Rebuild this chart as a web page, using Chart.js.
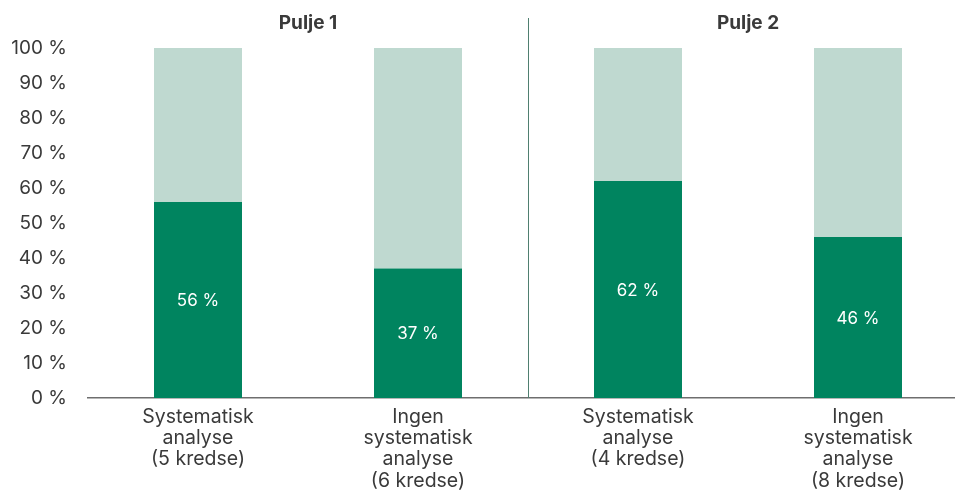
<!DOCTYPE html>
<html>
<head>
<meta charset="utf-8">
<script src="https://cdn.jsdelivr.net/npm/chart.js@4"></script>
<style>
html,body{margin:0;padding:0;background:#fff;overflow:hidden;}
#clip{width:955px;height:490px;overflow:hidden;position:relative;}
#wrap{width:968px;height:490px;position:relative;}
</style>
</head>
<body>
<div id="clip"><div id="wrap"><canvas id="c"></canvas></div></div>
<script>
const categories = [
  ['Systematisk','analyse','(5 kredse)'],
  ['Ingen','systematisk','analyse','(6 kredse)'],
  ['Systematisk','analyse','(4 kredse)'],
  ['Ingen','systematisk','analyse','(8 kredse)']
];
const groups = ['Pulje 1', 'Pulje 2'];
const shareValues = [56, 37, 62, 46];
const restValues = shareValues.map(v => 100 - v);
const yTicks = [0,10,20,30,40,50,60,70,80,90,100];

const DARK = '#00845f';
const LIGHT = '#bfd9d0';
const TEXT = '#3a3a3a';
const FONT = 'Inter, "Liberation Sans", sans-serif';

const valueLabels = {
  id: 'valueLabels',
  afterDatasetsDraw(chart) {
    const ctx = chart.ctx;
    const meta = chart.getDatasetMeta(0);
    ctx.save();
    ctx.fillStyle = '#ffffff';
    ctx.font = '17px ' + FONT;
    ctx.textAlign = 'center';
    ctx.textBaseline = 'middle';
    meta.data.forEach((el, i) => {
      const p = el.getProps(['x','y','base'], true);
      ctx.fillText(shareValues[i] + ' %', p.x, (p.y + p.base) / 2 + 1);
    });
    ctx.restore();
  }
};

const divider = {
  id: 'divider',
  afterDraw(chart) {
    const xs = chart.scales.x;
    const px = Math.round(xs.getPixelForValue(1.5)) + 0.5;
    const ctx = chart.ctx;
    ctx.save();
    ctx.strokeStyle = '#4f7f70';
    ctx.lineWidth = 1;
    ctx.beginPath();
    ctx.moveTo(px, 18);
    ctx.lineTo(px, chart.chartArea.bottom);
    ctx.stroke();
    ctx.restore();
  }
};

new Chart(document.getElementById('c'), {
  type: 'bar',
  data: {
    labels: categories,
    datasets: [
      { data: shareValues, backgroundColor: DARK, borderWidth: 0, barPercentage: 0.4, categoryPercentage: 1 },
      { data: restValues, backgroundColor: LIGHT, borderWidth: 0, barPercentage: 0.4, categoryPercentage: 1 }
    ]
  },
  options: {
    responsive: true,
    maintainAspectRatio: false,
    animation: false,
    layout: { padding: 0 },
    plugins: { legend: { display: false }, tooltip: { enabled: false } },
    scales: {
      x: {
        stacked: true,
        grid: { display: false, drawTicks: false },
        border: { display: true, color: '#6e6e6e', width: 1.5 },
        ticks: { color: TEXT, font: { family: FONT, size: 19.5, lineHeight: 1.1 }, padding: 8, maxRotation: 0, autoSkip: false },
        afterFit(s) { s.height = 92; }
      },
      x2: {
        type: 'category',
        labels: groups,
        position: 'top',
        offset: true,
        grid: { display: false, drawTicks: false },
        border: { display: false },
        ticks: { color: TEXT, font: { family: FONT, size: 19, weight: 'bold' }, padding: 13 },
        afterFit(s) { s.height = 48; }
      },
      y: {
        stacked: true,
        min: 0, max: 100,
        grid: { display: false, drawTicks: false },
        border: { display: false },
        afterBuildTicks(s) { s.ticks = yTicks.map(v => ({ value: v })); },
        ticks: { color: TEXT, font: { family: FONT, size: 19 }, padding: 21, callback: v => v + ' %' },
        afterFit(s) { s.width = 88; }
      }
    }
  },
  plugins: [valueLabels, divider]
});
</script>
</body>
</html>
